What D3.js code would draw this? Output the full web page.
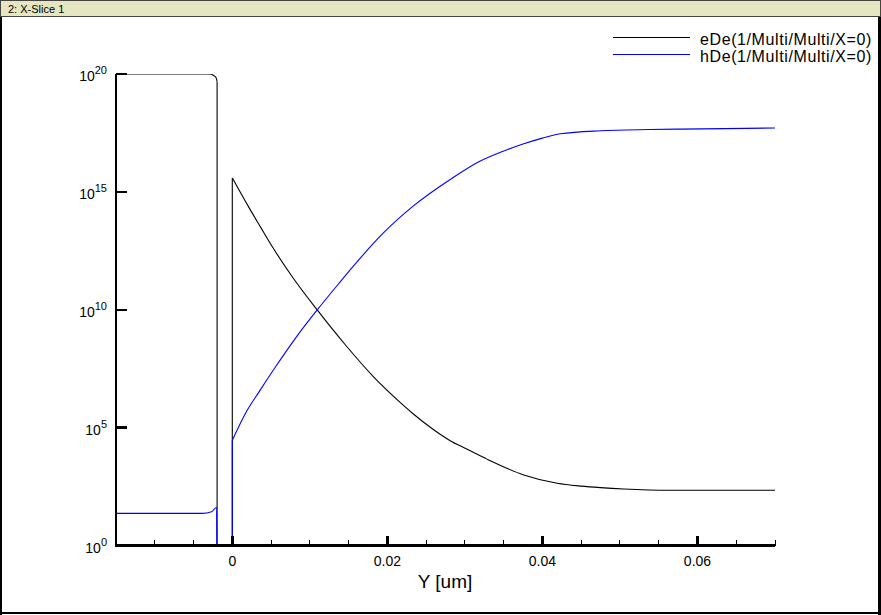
<!DOCTYPE html>
<html>
<head>
<meta charset="utf-8">
<script src="https://cdn.jsdelivr.net/npm/d3@7"></script>
<style>
  body { margin: 0; background: #fff; }
  svg { display: block; font-family: "Liberation Sans", Arial, sans-serif; }
</style>
</head>
<body>
<div id="chart"></div>
<script>
// data (Y in um, densities)
const eDeY = [-0.015, -0.0030, -0.0024, -0.0021, -0.00196, -0.00196, 0, 0,
  0.00214, 0.00365, 0.00515, 0.00773, 0.01095, 0.0146, 0.01825, 0.0219, 0.0234,
  0.0258, 0.0281, 0.0301, 0.0329, 0.0376, 0.0419, 0.045, 0.0475, 0.0505, 0.0563, 0.07];
const eDeVal = [1e20, 1e20, 8.7e19, 7.1e19, 4.7e19, 1e-3, 1e-3, 3.9e15,
  2.2e14, 3.2e13, 4.8e12, 2.5e11, 9.8e9, 3.2e8, 1.4e7, 1.0e6, 3.7e5,
  8.9e4, 2.8e4, 1.3e4, 4.5e3, 980, 435, 330, 285, 250, 220, 220];

const hDeY = [-0.015, -0.00387, -0.00267, -0.00202, -0.00196, 0, 0,
  0.00171, 0.00343, 0.00558, 0.00816, 0.01095, 0.01374, 0.01631, 0.01933,
  0.0232, 0.02835, 0.0318, 0.0352, 0.0375, 0.040, 0.0423, 0.0475, 0.0538, 0.0578, 0.07];
const hDeVal = [23, 23, 27, 42, 1e-3, 1e-3, 2.9e4,
  4.1e5, 3.2e6, 3.8e7, 6.3e8, 9.8e9, 1.3e11, 1.3e12, 1.6e13,
  2.3e14, 3.8e15, 1.9e16, 5.75e16, 1.07e17, 1.9e17, 2.9e17, 3.9e17, 4.4e17, 4.6e17, 5.1e17];

const xMajor = [0, 0.02, 0.04, 0.06];
const xMinor = d3.range(-0.01, 0.0701, 0.005);
const yTicks = [0, 5, 10, 15, 20]; // exponents
const seriesNames = ['eDe(1/Multi/Multi/X=0)', 'hDe(1/Multi/Multi/X=0)'];
const seriesColors = ['#000000', '#0000ff'];

const width = 881, height = 615;
const svg = d3.select('#chart').append('svg')
  .attr('width', width)
  .attr('height', height);

svg.append('rect').attr('width', width).attr('height', height).attr('fill', '#fff');

// window frame
svg.append('rect')
  .attr('x', 0.5).attr('y', 0.5).attr('width', width - 1).attr('height', 16)
  .attr('fill', '#e6e6c0').attr('stroke', '#444');
svg.append('text')
  .attr('x', 8).attr('y', 13)
  .attr('font-size', 11)
  .text('2: X-Slice 1');
svg.append('rect').attr('x', 0).attr('y', 17).attr('width', 2).attr('height', height - 17).attr('fill', '#000');
svg.append('rect').attr('x', 878).attr('y', 17).attr('width', 3).attr('height', height - 17).attr('fill', '#000');
svg.append('rect').attr('x', 0).attr('y', 612).attr('width', width).attr('height', 2).attr('fill', '#000');

const x = d3.scaleLinear().domain([-0.015, 0.07]).range([116, 775]);
const y = d3.scaleLog().domain([1, 1e20]).range([545.5, 74]);

svg.append('clipPath').attr('id', 'plot-clip')
  .append('rect')
  .attr('x', x.range()[0]).attr('y', y.range()[1])
  .attr('width', x.range()[1] - x.range()[0])
  .attr('height', y.range()[0] - y.range()[1]);

const smooth = d3.line()
  .x(d => x(d[0]))
  .y(d => y(d[1]))
  .curve(d3.curveMonotoneX);
const straight = d3.line()
  .x(d => x(d[0]))
  .y(d => y(d[1]));

// split a series at its vertical jumps so the smoothing doesn't round them
function pieces(pts) {
  const runs = [[pts[0]]], jumps = [];
  for (let i = 1; i < pts.length; i++) {
    if (pts[i][0] === pts[i - 1][0]) {
      jumps.push([pts[i - 1], pts[i]]);
      runs.push([pts[i]]);
    } else {
      runs[runs.length - 1].push(pts[i]);
    }
  }
  return { runs, jumps };
}

const series = [
  d3.zip(eDeY, eDeVal),
  d3.zip(hDeY, hDeVal)
];

const plot = svg.append('g').attr('clip-path', 'url(#plot-clip)');
series.forEach((pts, i) => {
  const g = plot.append('g')
    .attr('fill', 'none')
    .attr('stroke', seriesColors[i])
    .attr('stroke-width', 1.1);
  const p = pieces(pts);
  p.runs.filter(r => r.length > 1).forEach(r => g.append('path').attr('d', smooth(r)));
  p.jumps.forEach(j => g.append('path').attr('d', straight(j)));
});

// axes
const axes = svg.append('g').attr('shape-rendering', 'crispEdges');
axes.append('line')
  .attr('x1', x.range()[0]).attr('x2', x.range()[0])
  .attr('y1', y.range()[1]).attr('y2', y.range()[0] + 1)
  .attr('stroke', '#000').attr('stroke-width', 2.5);
axes.append('line')
  .attr('x1', x.range()[0]).attr('x2', x.range()[1])
  .attr('y1', y.range()[0]).attr('y2', y.range()[0])
  .attr('stroke', '#000').attr('stroke-width', 2.5);

// x minor ticks
axes.selectAll('.xminor')
  .data(xMinor.filter(v => !xMajor.some(m => Math.abs(m - v) < 1e-9)))
  .enter().append('line')
  .attr('x1', d => x(d)).attr('x2', d => x(d))
  .attr('y1', y.range()[0]).attr('y2', y.range()[0] - 6)
  .attr('stroke', '#000').attr('stroke-width', 1);

// x major ticks
axes.selectAll('.xmajor')
  .data(xMajor)
  .enter().append('line')
  .attr('x1', d => x(d)).attr('x2', d => x(d))
  .attr('y1', y.range()[0]).attr('y2', y.range()[0] - 10)
  .attr('stroke', '#000').attr('stroke-width', 2.5);

svg.selectAll('.xlabel')
  .data(xMajor)
  .enter().append('text')
  .attr('x', d => x(d))
  .attr('y', 566)
  .attr('text-anchor', 'middle')
  .attr('font-size', 14)
  .text(d => d === 0 ? '0' : d3.format('.2f')(d));

svg.append('text')
  .attr('x', 445).attr('y', 588)
  .attr('text-anchor', 'middle')
  .attr('font-size', 19)
  .text('Y [um]');

// y ticks
axes.selectAll('.ytick')
  .data(yTicks)
  .enter().append('line')
  .attr('x1', x.range()[0]).attr('x2', x.range()[0] + 11)
  .attr('y1', d => y(Math.pow(10, d))).attr('y2', d => y(Math.pow(10, d)))
  .attr('stroke', '#000').attr('stroke-width', 2.5);

const ylab = svg.selectAll('.ylabel')
  .data(yTicks)
  .enter().append('text')
  .attr('x', 107)
  .attr('y', d => y(Math.pow(10, d)) + 7)
  .attr('text-anchor', 'end')
  .attr('font-size', 14);
ylab.append('tspan').text('10');
ylab.append('tspan')
  .attr('dy', -7)
  .attr('font-size', 11)
  .text(d => d);

// legend
const legend = svg.append('g');
seriesNames.forEach((name, i) => {
  const ly = 37 + i * 17;
  legend.append('line')
    .attr('x1', 613).attr('x2', 690)
    .attr('y1', ly).attr('y2', ly)
    .attr('stroke', seriesColors[i]).attr('stroke-width', 1)
    .attr('shape-rendering', 'crispEdges');
  legend.append('text')
    .attr('x', 700).attr('y', ly + 8)
    .attr('font-size', 16)
    .attr('letter-spacing', 0.6)
    .text(name);
});
</script>
</body>
</html>
